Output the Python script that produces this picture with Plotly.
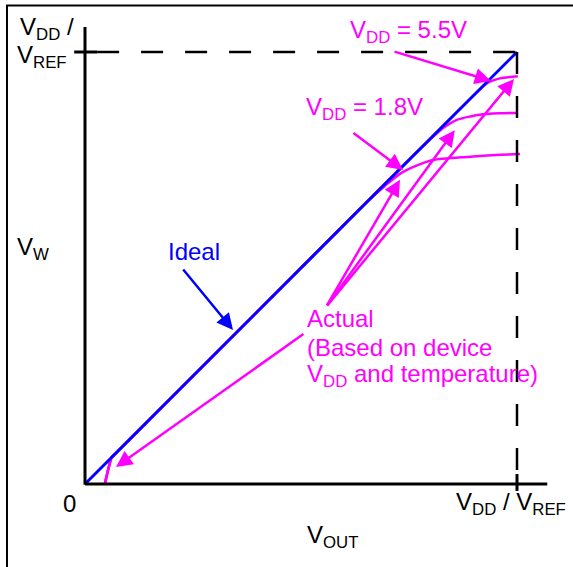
import plotly.graph_objects as go

# Transfer-function curves (V_W vs V_OUT), normalised so that full scale = 1
ideal_x = [0.0, 1.0]
ideal_y = [0.0, 1.0]

actual_low_x = [0.046, 0.062, 0.07, 0.40, 0.66, 0.694, 0.729, 0.77, 0.806, 0.884, 0.961, 1.007]
actual_low_y = [0.0, 0.062, 0.07, 0.40, 0.66, 0.690, 0.718, 0.738, 0.750, 0.757, 0.762, 0.764]

actual_mid_x = [0.046, 0.062, 0.07, 0.40, 0.775, 0.829, 0.861, 0.914, 0.96, 1.002]
actual_mid_y = [0.0, 0.062, 0.07, 0.40, 0.775, 0.824, 0.843, 0.855, 0.858, 0.859]

actual_high_x = [0.046, 0.062, 0.07, 0.40, 0.891, 0.931, 0.961, 1.002]
actual_high_y = [0.0, 0.062, 0.07, 0.40, 0.891, 0.928, 0.939, 0.944]

BLUE = "#0000FF"
MAGENTA = "#FF00FF"
FONT = "Arial, Liberation Sans, Helvetica, sans-serif"
FS = 24

fig = go.Figure()
for cx, cy in [(actual_low_x, actual_low_y), (actual_mid_x, actual_mid_y),
               (actual_high_x, actual_high_y)]:
    fig.add_trace(go.Scatter(x=cx, y=cy, mode="lines",
                             line=dict(color=MAGENTA, width=2.5, shape="spline", smoothing=0.6),
                             hoverinfo="skip"))
fig.add_trace(go.Scatter(x=ideal_x, y=ideal_y, mode="lines",
                         line=dict(color=BLUE, width=3), hoverinfo="skip"))

shapes = [
    # outer frame (left and top edges)
    dict(type="line", xref="paper", yref="paper", x0=0.0122, x1=0.0122, y0=0.991, y1=-0.01,
         line=dict(color="black", width=2)),
    dict(type="line", xref="paper", yref="paper", x0=0.0105, x1=1.01, y0=0.9903, y1=0.9903,
         line=dict(color="black", width=2)),
    # axes
    dict(type="line", x0=0, x1=0, y0=-0.002, y1=1.058, line=dict(color="black", width=3)),
    dict(type="line", x0=0, x1=1.07, y0=0, y1=0, line=dict(color="black", width=3)),
    # full-scale ticks
    dict(type="line", x0=-0.025, x1=0.028, y0=1, y1=1, line=dict(color="black", width=3)),
    dict(type="line", x0=1, x1=1, y0=0.023, y1=-0.016, line=dict(color="black", width=3)),
    # full-scale guides
    dict(type="line", x0=0.028, x1=1, y0=1, y1=1,
         line=dict(color="black", width=2.5, dash="22px,22px")),
    dict(type="line", x0=1, x1=1, y0=1, y1=0.023,
         line=dict(color="black", width=2.5, dash="22px,22px")),
]

annotations = []

def label(text, x, y, color="black"):
    annotations.append(dict(text=text, x=x, y=y, xref="x", yref="y", showarrow=False,
                            xanchor="left", yanchor="middle",
                            font=dict(family=FONT, size=FS, color=color)))

label("V<sub>DD</sub> /", -0.156, 1.054)
label("V<sub>REF</sub>", -0.161, 0.99)
label("V<sub>W</sub>", -0.161, 0.545)
label("0", -0.055, -0.045)
label("V<sub>DD</sub> / V<sub>REF</sub>", 0.855, -0.044)
label("V<sub>OUT</sub>", 0.510, -0.1215)
label("V<sub>DD</sub> = 5.5V", 0.609, 1.0475, MAGENTA)
label("V<sub>DD</sub> = 1.8V", 0.508, 0.869, MAGENTA)
label("Ideal", 0.188, 0.538, BLUE)
label("Actual", 0.510, 0.383, MAGENTA)
label("(Based on device", 0.510, 0.317, MAGENTA)
label("V<sub>DD</sub> and temperature)", 0.510, 0.251, MAGENTA)

# pointer arrows: (tip x, tip y, tail x, tail y, colour)
arrows = [
    (0.3426, 0.3565, 0.2245, 0.500, BLUE),
    (0.940, 0.933, 0.713, 1.002, MAGENTA),
    (0.736, 0.727, 0.618, 0.815, MAGENTA),
    (0.729, 0.704, 0.558, 0.410, MAGENTA),
    (0.856, 0.819, 0.558, 0.410, MAGENTA),
    (0.993, 0.9375, 0.558, 0.410, MAGENTA),
    (0.0718, 0.0394, 0.509, 0.3495, MAGENTA),
]
for tx, ty, sx, sy, col in arrows:
    annotations.append(dict(text="", x=tx, y=ty, ax=sx, ay=sy, xref="x", yref="y",
                            axref="x", ayref="y", showarrow=True, arrowhead=2,
                            arrowsize=1.3, arrowwidth=2.5, arrowcolor=col, standoff=0))

fig.update_layout(
    width=573, height=567,
    margin=dict(l=0, r=0, t=0, b=0),
    paper_bgcolor="white", plot_bgcolor="white",
    showlegend=False,
    xaxis=dict(range=[-0.19676, 1.12963], visible=False, fixedrange=True),
    yaxis=dict(range=[-0.19213, 1.12037], visible=False, fixedrange=True),
    shapes=shapes,
    annotations=annotations,
)

fig.write_html("out.html")
